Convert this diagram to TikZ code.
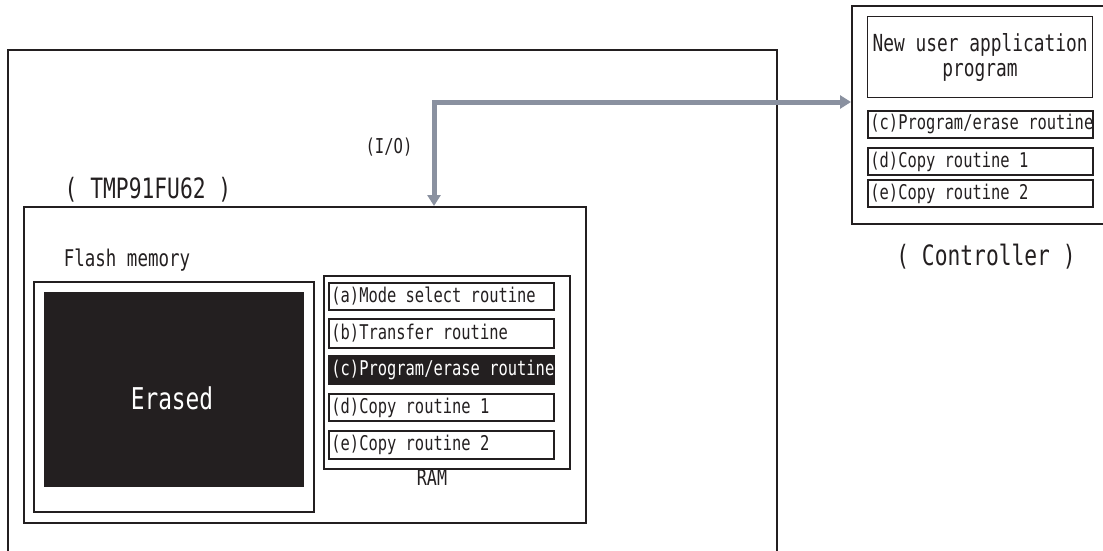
\documentclass[tikz,border=0pt]{standalone}
\usepackage{fontspec}
\newfontfamily\gfont[FakeStretch=0.76]{DejaVu Sans Mono}
\usetikzlibrary{arrows.meta}
\definecolor{ink}{HTML}{231F20}
\definecolor{iogray}{HTML}{8A91A0}
\newcommand\rline[1]{\makebox[220pt][l]{#1}}
\begin{document}
\begin{tikzpicture}[x=1pt,y=-1pt,
  box/.style={draw=ink, line width=2pt, inner sep=0pt, anchor=north west},
  txt/.style={text=ink, inner sep=0pt, font=\gfont\fontsize{#1}{#1}\selectfont},
  routine/.style={draw=ink, line width=1.8pt, anchor=north west, minimum width=225pt,
    inner xsep=2.5pt, inner ysep=0pt, text=ink,
    font=\gfont\fontsize{20.3}{20.3}\selectfont},
  routinedark/.style={routine, fill=ink, text=white},
  ioarrow/.style={draw=iogray, line width=5pt, line join=miter,
    {Triangle[length=11pt,width=13pt]}-{Triangle[length=11pt,width=13pt]}}
]
\useasboundingbox (0,0) rectangle (1103,551);
\clip (0,0) rectangle (1103,551);

% outer board box (cut off at the bottom)
\node[box, minimum width=769pt, minimum height=560pt] (board) at (7,49) {};

% TMP91FU62 box
\node[box, line width=1.6pt, minimum width=562pt, minimum height=316pt] (tmp) at (23,206) {};
\node[txt=28] (tmplabel) at (148,190) {( TMP91FU62 )};
\node[txt=20.5] (iolabel) at (389,147) {(I/O)};

% flash memory
\node[txt=23] (flashlabel) at (127,260) {Flash memory};
\node[box, line width=2.4pt, minimum width=280pt, minimum height=230pt] (flash) at (33,281) {};
\node[box, draw=ink, fill=ink, line width=0.5pt, minimum width=259pt, minimum height=194pt] (erasedbox) at (44,292) {};
\node[txt=30, text=white] (erased) at (172,398) {Erased};

% RAM
\node[box, minimum width=246pt, minimum height=193pt] (ram) at (323,275) {};
\node[txt=22] (ramlabel) at (432,477) {RAM};
\node[routine, minimum height=27pt] (ra) at (328,282) {\rline{(a)Mode select routine}};
\node[routine, minimum height=29pt] (rb) at (328,318) {\rline{(b)Transfer routine}};
\node[routinedark, minimum height=28pt] (rc) at (328,355) {\rline{(c)Program/erase routine}};
\node[routine, minimum height=27pt] (rd) at (328,393) {\rline{(d)Copy routine 1}};
\node[routine, minimum height=28pt] (re) at (328,430) {\rline{(e)Copy routine 2}};

% controller (cut off at the right)
\node[box, line width=2.4pt, minimum width=270pt, minimum height=218pt] (ctrl) at (851,5) {};
\node[box, line width=1.2pt, minimum width=225pt, minimum height=81pt, align=center,
  text=ink, font=\gfont\fontsize{23.5}{25}\selectfont] (newapp) at (867,16)
  {New user application\\program};
\node[routine, minimum height=27pt] (cc) at (867,110) {\rline{(c)Program/erase routine}};
\node[routine, minimum height=27pt] (cd) at (867,147) {\rline{(d)Copy routine 1}};
\node[routine, minimum height=27pt] (ce) at (867,179) {\rline{(e)Copy routine 2}};
\node[txt=28] (ctrllabel) at (986,257) {( Controller )};

% I/O connection
\coordinate (corner) at (434,102);
\draw[ioarrow] (tmp.north -| corner) -- (corner) -- (ctrl.west |- corner);
\end{tikzpicture}
\end{document}
